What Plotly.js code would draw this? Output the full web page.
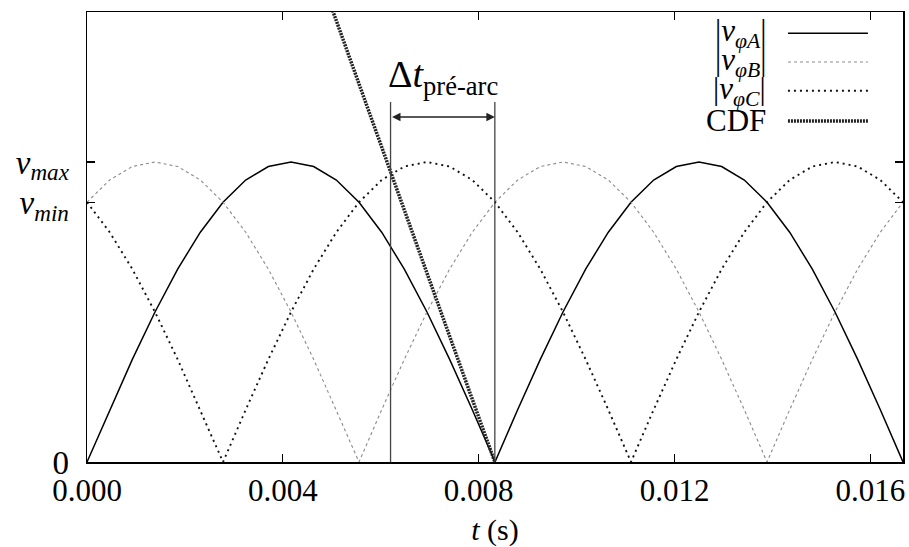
<!DOCTYPE html>
<html>
<head>
<meta charset="utf-8">
<script src="https://cdn.plot.ly/plotly-3.0.1.min.js"></script>
<style>
  html, body { margin: 0; padding: 0; background: #fff; }
  #chart { width: 909px; height: 547px; }
</style>
</head>
<body>
<div id="chart"></div>
<script>
// Time samples over one 60 Hz period (s)
const time = [0, 0.000463, 0.000926, 0.001389, 0.001852, 0.002315, 0.002778, 0.003241, 0.003704,
  0.004167, 0.004630, 0.005093, 0.005556, 0.006019, 0.006481, 0.006944, 0.007407, 0.007870,
  0.008333, 0.008796, 0.009259, 0.009722, 0.010185, 0.010648, 0.011111, 0.011574, 0.012037,
  0.012500, 0.012963, 0.013426, 0.013889, 0.014352, 0.014815, 0.015278, 0.015741, 0.016204, 0.016667];

// Rectified phase voltages, normalised to v_max = 1
const vA = [0, .174, .342, .5, .643, .766, .866, .940, .985, 1, .985, .940, .866, .766, .643, .5, .342, .174,
  0, .174, .342, .5, .643, .766, .866, .940, .985, 1, .985, .940, .866, .766, .643, .5, .342, .174, 0];
const vB = [.866, .940, .985, 1, .985, .940, .866, .766, .643, .5, .342, .174, 0, .174, .342, .5, .643, .766,
  .866, .940, .985, 1, .985, .940, .866, .766, .643, .5, .342, .174, 0, .174, .342, .5, .643, .766, .866];
const vC = [.866, .766, .643, .5, .342, .174, 0, .174, .342, .5, .643, .766, .866, .940, .985, 1, .985, .940,
  .866, .766, .643, .5, .342, .174, 0, .174, .342, .5, .643, .766, .866, .940, .985, 1, .985, .940, .866];

// Dielectric withstand (CDF) line, falling to zero at current zero
const cdfT = [0.0045, 0.00833];
const cdfV = [1.74, 0];

// Pre-arc interval
const preArcStart = 0.0062;
const preArcEnd = 0.00833;
const preArcLevel = 1.15;
const preArcTop = 1.2;

// Axis ticks
const xTicks = [0, 0.004, 0.008, 0.012, 0.016];
const xTickText = ['0.000', '0.004', '0.008', '0.012', '0.016'];
const yTicks = [0, 0.866, 1];
const yTickText = ['0', '<i>v</i><sub><i>min</i></sub>', '<i>v</i><sub><i>max</i></sub>'];

// Legend entries
const legendLabels = [
  '|<i>v</i><sub><i>φA</i></sub>|',
  '|<i>v</i><sub><i>φB</i></sub>|',
  '|<i>v</i><sub><i>φC</i></sub>|',
  'CDF'
];

const FONT = 'Liberation Serif, Times New Roman, serif';

const styles = [
  { color: '#000', width: 1.5, dash: 'solid' },
  { color: '#8a8a8a', width: 1.1, dash: '3px,3px' },
  { color: '#111', width: 1.9, dash: '2px,4px' },
  { color: '#222', width: 3.5, dash: '2px,1px' }
];

const traces = [
  { x: time, y: vA, mode: 'lines', line: styles[0], hoverinfo: 'skip' },
  { x: time, y: vB, mode: 'lines', line: styles[1], hoverinfo: 'skip' },
  { x: time, y: vC, mode: 'lines', line: styles[2], hoverinfo: 'skip' },
  { x: cdfT, y: cdfV, mode: 'lines', line: styles[3], hoverinfo: 'skip' },
  { x: [preArcStart, preArcStart], y: [0, preArcTop], mode: 'lines', line: { color: '#444', width: 1.3 }, hoverinfo: 'skip' },
  { x: [preArcEnd, preArcEnd], y: [0, preArcTop], mode: 'lines', line: { color: '#444', width: 1.3 }, hoverinfo: 'skip' }
];

// Legend drawn as text + sample lines in the top-right corner
const legendRows = [0.953, 0.889, 0.825, 0.758];
const annotations = legendLabels.map((txt, i) => ({
  xref: 'paper', yref: 'paper', x: 0.834, y: legendRows[i],
  xanchor: 'right', yanchor: 'middle', showarrow: false,
  text: txt, font: { family: FONT, size: i === 3 ? 31 : 31, color: '#000' }
}));
const shapes = styles.map((s, i) => ({
  type: 'line', xref: 'paper', yref: 'paper',
  x0: 0.859, x1: 0.957, y0: legendRows[i], y1: legendRows[i],
  line: { color: s.color, width: s.width, dash: s.dash }
}));

// Double-headed arrow and label for the pre-arc time
annotations.push({
  x: preArcEnd, y: preArcLevel, ax: preArcStart, ay: preArcLevel,
  xref: 'x', yref: 'y', axref: 'x', ayref: 'y',
  showarrow: true, arrowhead: 2, arrowside: 'end+start', arrowsize: 1.3,
  arrowwidth: 1.3, arrowcolor: '#222', text: ''
});
annotations.push({
  x: (preArcStart + preArcEnd) / 2, y: preArcTop, xref: 'x', yref: 'y',
  xanchor: 'center', yanchor: 'bottom', showarrow: false, yshift: -1,
  text: 'Δ<i>t</i><sub>pré-arc</sub>', font: { family: FONT, size: 38, color: '#000' }
});

const layout = {
  width: 909, height: 547,
  margin: { l: 87, r: 6, t: 12, b: 85 },
  paper_bgcolor: '#fff', plot_bgcolor: '#fff',
  showlegend: false,
  font: { family: FONT, size: 31, color: '#000' },
  xaxis: {
    range: [0, 0.016667], tickvals: xTicks, ticktext: xTickText,
    ticks: 'inside', ticklen: 8, tickwidth: 1.3, tickcolor: '#000',
    showline: true, linecolor: '#000', linewidth: 1.5, mirror: 'ticks',
    showgrid: false, zeroline: false,
    tickfont: { family: FONT, size: 31 },
    title: { text: '<i>t</i> (s)', font: { family: FONT, size: 30 }, standoff: 17 }
  },
  yaxis: {
    range: [0, 1.5], tickvals: yTicks, ticktext: yTickText,
    ticks: 'inside', ticklen: 8, tickwidth: 1.3, tickcolor: '#000',
    showline: true, linecolor: '#000', linewidth: 1.5, mirror: 'ticks',
    showgrid: false, zeroline: false,
    tickfont: { family: FONT, size: 33 },
    ticklabelstandoff: 10
  },
  shapes: shapes,
  annotations: annotations
};

Plotly.newPlot('chart', traces, layout, { staticPlot: true, displayModeBar: false });
</script>
</body>
</html>
